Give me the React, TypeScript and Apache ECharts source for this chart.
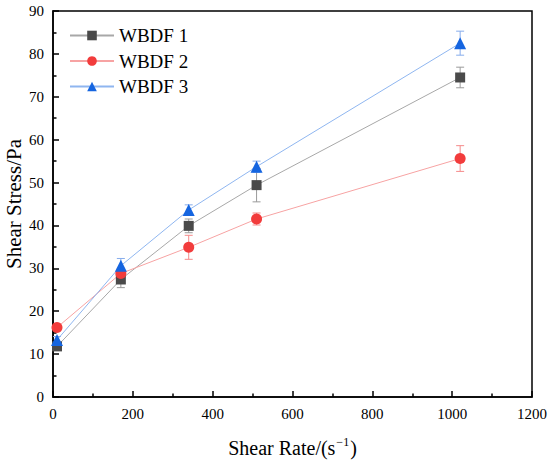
import React, { useEffect, useRef } from "react";
import * as echarts from "echarts";

const shearRate = [10, 170, 340, 510, 1020];
const wbdf1 = [11.8, 27.4, 39.9, 49.4, 74.5];
const wbdf1Err = [0.8, 1.9, 1.6, 3.9, 2.4];
const wbdf2 = [16.2, 28.8, 34.9, 41.5, 55.6];
const wbdf2Err = [0.6, 1.2, 2.8, 1.4, 3.0];
const wbdf3 = [13.3, 30.6, 43.6, 53.7, 82.5];
const wbdf3Err = [0.8, 1.7, 1.2, 1.3, 2.8];

const FONT = "'Liberation Serif', 'Times New Roman', serif";

function errSeries(name: string, vals: number[], errs: number[], color: string) {
  return {
    type: "custom",
    name: name + " err",
    z: 1,
    silent: true,
    data: shearRate.map((x, i) => [x, vals[i] - errs[i], vals[i] + errs[i]]),
    renderItem: (params: any, api: any) => {
      const x = api.value(0);
      const lo = api.coord([x, api.value(1)]);
      const hi = api.coord([x, api.value(2)]);
      const w = 4;
      const style = { stroke: color, lineWidth: 1 };
      return {
        type: "group",
        children: [
          { type: "line", shape: { x1: lo[0], y1: lo[1], x2: hi[0], y2: hi[1] }, style },
          { type: "line", shape: { x1: lo[0] - w, y1: lo[1], x2: lo[0] + w, y2: lo[1] }, style },
          { type: "line", shape: { x1: hi[0] - w, y1: hi[1], x2: hi[0] + w, y2: hi[1] }, style },
        ],
      };
    },
  };
}

function lineSeries(name: string, vals: number[], symbol: string, size: number, mColor: string, lColor: string) {
  return {
    type: "line",
    name,
    z: 3,
    data: shearRate.map((x, i) => [x, vals[i]]),
    symbol,
    symbolSize: size,
    showAllSymbol: true,
    itemStyle: { color: mColor },
    lineStyle: { color: lColor, width: 1 },
  };
}

export default function App() {
  const ref = useRef<HTMLDivElement>(null);
  useEffect(() => {
    const chart = echarts.init(ref.current!, null, { renderer: "svg" });
    const axisCommon = {
      axisLine: { show: true, onZero: false, lineStyle: { color: "#000", width: 1.5 } },
      axisTick: { show: true, inside: true, length: 6, lineStyle: { color: "#000", width: 1.5 } },
      minorTick: { show: true, splitNumber: 2, length: 3.5, lineStyle: { color: "#000", width: 1.5 } },
      splitLine: { show: false },
      axisLabel: { color: "#000", fontFamily: FONT, fontSize: 15, formatter: (v: number) => String(v) },
      nameTextStyle: { color: "#000", fontFamily: FONT, fontSize: 20 },
    };
    chart.setOption({
      animation: false,
      textStyle: { fontFamily: FONT },
      grid: {
        left: 53,
        right: 18,
        top: 11,
        bottom: 63,
        outerBoundsMode: "none",
        containLabel: false,
        show: true,
        borderColor: "#000",
        borderWidth: 1.5,
        backgroundColor: "transparent",
      },
      legend: {
        orient: "vertical",
        left: 69,
        top: 26,
        padding: 0,
        itemWidth: 44,
        itemHeight: 12,
        itemGap: 6.5,
        data: ["WBDF 1", "WBDF 2", "WBDF 3"],
        textStyle: { color: "#000", fontFamily: FONT, fontSize: 19 },
      },
      xAxis: {
        type: "value",
        min: 0,
        max: 1200,
        interval: 200,
        name: "{a|Shear Rate/(s}{b|−1}{a|)}",
        nameLocation: "middle",
        nameGap: 39,
        nameMoveOverlap: false,
        ...axisCommon,
        axisLabel: { ...axisCommon.axisLabel, margin: 9 },
        nameTextStyle: {
          ...axisCommon.nameTextStyle,
          rich: {
            a: { fontFamily: FONT, fontSize: 20, color: "#000", lineHeight: 22, verticalAlign: "bottom" },
            b: { fontFamily: FONT, fontSize: 12, color: "#000", lineHeight: 22, verticalAlign: "top", padding: [0, 1, 0, 1] },
          },
        },
      },
      yAxis: {
        type: "value",
        min: 0,
        max: 90,
        interval: 10,
        name: "Shear Stress/Pa",
        nameLocation: "middle",
        nameGap: 28,
        nameMoveOverlap: false,
        ...axisCommon,
        axisLabel: { ...axisCommon.axisLabel, margin: 9 },
        nameTextStyle: { ...axisCommon.nameTextStyle, fontSize: 21, lineHeight: 22 },
      },
      series: [
        errSeries("WBDF 1", wbdf1, wbdf1Err, "#9a9a9a"),
        errSeries("WBDF 2", wbdf2, wbdf2Err, "#f58a8a"),
        errSeries("WBDF 3", wbdf3, wbdf3Err, "#86acec"),
        lineSeries("WBDF 1", wbdf1, "rect", 10, "#4a4a4a", "#a8a8a8"),
        lineSeries("WBDF 2", wbdf2, "circle", 11, "#f23c3c", "#f7a3a3"),
        lineSeries("WBDF 3", wbdf3, "triangle", 12, "#1565e0", "#8fb6f0"),
      ],
    });
    return () => chart.dispose();
  }, []);
  return (
    <div
      ref={ref}
      style={{ position: "absolute", left: 0, top: 0, width: 550, height: 460, background: "#fff" }}
    />
  );
}
